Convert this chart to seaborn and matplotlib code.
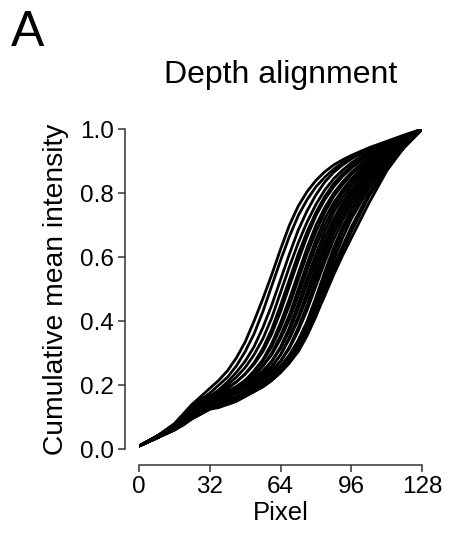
import numpy as np
import pandas as pd
import matplotlib
matplotlib.use("Agg")
import matplotlib.pyplot as plt
import seaborn as sns

# ---- data ----
pixel = [0, 8, 16, 20, 24, 28, 32, 36, 40, 44, 48, 52, 56, 60, 64, 68, 72, 76, 80, 84, 88, 92, 96, 104, 112, 120, 128]

c01 = [.01, .04, .08, .11, .14, .165, .19, .215, .245, .285, .335, .40, .47, .545, .625, .70, .76, .805, .84, .867, .888, .904, .918, .942, .962, .982, 1.0]
c02 = [.01, .04, .075, .10, .13, .155, .175, .20, .225, .26, .305, .36, .43, .51, .59, .665, .73, .78, .82, .85, .875, .895, .91, .938, .96, .98, 1.0]
c03 = [.01, .035, .07, .10, .135, .15, .165, .185, .21, .24, .275, .32, .38, .45, .53, .61, .685, .745, .795, .835, .865, .888, .907, .937, .96, .979, 1.0]
c04 = [.01, .04, .075, .10, .13, .145, .16, .18, .20, .225, .255, .295, .345, .41, .49, .57, .645, .71, .765, .81, .845, .872, .895, .93, .957, .978, 1.0]
c05 = [.01, .035, .07, .095, .12, .14, .155, .17, .19, .21, .235, .27, .315, .375, .45, .53, .61, .68, .74, .79, .83, .86, .885, .925, .955, .976, 1.0]
c06 = [.01, .04, .075, .105, .14, .155, .165, .175, .19, .21, .235, .265, .305, .36, .43, .51, .59, .665, .73, .78, .82, .852, .878, .92, .952, .975, 1.0]
c07 = [.01, .035, .065, .09, .115, .135, .15, .165, .18, .195, .215, .245, .28, .33, .395, .47, .55, .63, .70, .755, .80, .835, .865, .912, .948, .973, 1.0]
c08 = [.01, .04, .07, .10, .13, .145, .155, .165, .18, .195, .215, .24, .275, .32, .38, .45, .53, .61, .68, .74, .79, .826, .858, .908, .946, .972, 1.0]
c09 = [.01, .035, .065, .085, .11, .13, .145, .16, .175, .19, .205, .23, .26, .30, .355, .42, .50, .58, .655, .72, .77, .81, .845, .90, .94, .97, 1.0]
c10 = [.01, .04, .075, .10, .135, .15, .16, .17, .18, .195, .21, .23, .26, .295, .345, .405, .48, .56, .635, .70, .755, .80, .835, .893, .937, .968, 1.0]
c11 = [.01, .035, .065, .09, .12, .135, .145, .155, .165, .18, .195, .215, .24, .275, .32, .38, .455, .535, .61, .68, .74, .785, .825, .886, .932, .966, 1.0]
c12 = [.01, .04, .07, .095, .125, .14, .15, .16, .17, .185, .20, .22, .245, .275, .315, .37, .44, .515, .59, .66, .72, .77, .812, .88, .928, .963, 1.0]
c13 = [.01, .035, .065, .085, .11, .125, .14, .15, .16, .175, .19, .205, .225, .255, .295, .35, .415, .49, .57, .64, .705, .757, .80, .872, .922, .96, 1.0]
c14 = [.01, .04, .07, .095, .13, .145, .155, .165, .175, .185, .20, .215, .235, .26, .295, .345, .405, .475, .55, .625, .69, .745, .79, .865, .918, .958, 1.0]
c15 = [.01, .035, .06, .08, .105, .12, .135, .145, .155, .165, .18, .195, .215, .24, .275, .32, .38, .45, .53, .605, .675, .73, .778, .857, .914, .956, 1.0]
c16 = [.01, .035, .065, .09, .12, .135, .145, .155, .165, .175, .19, .205, .225, .245, .275, .315, .37, .435, .51, .585, .655, .715, .765, .848, .908, .953, 1.0]
c17 = [.01, .035, .06, .08, .10, .115, .13, .14, .15, .16, .175, .19, .205, .225, .255, .29, .34, .40, .475, .555, .63, .695, .75, .838, .902, .95, 1.0]
c18 = [.01, .04, .07, .095, .125, .14, .15, .155, .165, .175, .19, .20, .215, .235, .26, .295, .34, .395, .46, .535, .61, .68, .735, .828, .895, .946, 1.0]
c19 = [.01, .035, .06, .08, .10, .115, .13, .14, .145, .155, .17, .185, .20, .22, .245, .28, .325, .38, .445, .515, .59, .66, .72, .815, .888, .945, 1.0]
c20 = [.01, .035, .065, .085, .11, .125, .135, .14, .15, .16, .175, .19, .205, .225, .25, .28, .32, .37, .43, .50, .57, .635, .695, .80, .88, .943, 1.0]
c21 = [.01, .035, .06, .075, .095, .11, .125, .135, .14, .15, .165, .18, .195, .215, .24, .27, .305, .355, .415, .485, .555, .62, .68, .79, .876, .945, 1.0]
c22 = [.01, .035, .065, .08, .095, .11, .125, .13, .14, .15, .165, .18, .195, .215, .24, .27, .31, .36, .42, .48, .545, .605, .66, .77, .87, .945, 1.0]

curves = {
    "c01": c01, "c02": c02, "c03": c03, "c04": c04, "c05": c05, "c06": c06,
    "c07": c07, "c08": c08, "c09": c09, "c10": c10, "c11": c11, "c12": c12,
    "c13": c13, "c14": c14, "c15": c15, "c16": c16, "c17": c17, "c18": c18,
    "c19": c19, "c20": c20, "c21": c21, "c22": c22,
}

x_ticks = [0, 32, 64, 96, 128]
y_ticks = [0.0, 0.2, 0.4, 0.6, 0.8, 1.0]
y_ticklabels = ["0.0", "0.2", "0.4", "0.6", "0.8", "1.0"]

rows = []
for name, vals in curves.items():
    for px, v in zip(pixel, vals):
        rows.append({"curve": name, "Pixel": px, "value": v})
df = pd.DataFrame(rows)

# ---- plot ----
sns.set_style("ticks")
plt.rcParams["font.family"] = ["Liberation Sans", "DejaVu Sans"]
plt.rcParams["text.color"] = "black"
plt.rcParams["axes.labelcolor"] = "black"
plt.rcParams["xtick.color"] = "black"
plt.rcParams["ytick.color"] = "black"
plt.rcParams["xtick.direction"] = "out"
plt.rcParams["ytick.direction"] = "out"

fig = plt.figure(figsize=(4.54, 5.38), dpi=100)
ax = fig.add_axes([0.306, 0.165, 0.624, 0.595])

sns.lineplot(data=df, x="Pixel", y="value", units="curve", estimator=None,
             color="black", linewidth=2.0, ax=ax, legend=False)

ax.set_xlim(0, 128)
ax.set_ylim(0, 1.0)
ax.set_xticks(x_ticks)
ax.set_yticks(y_ticks)
ax.set_yticklabels(y_ticklabels)
ax.tick_params(axis="both", labelsize=17.5, length=5, width=1.1, color="#333333",
               labelcolor="black", pad=3)
for s in ["left", "bottom"]:
    ax.spines[s].set_linewidth(1.1)
    ax.spines[s].set_color("#333333")

sns.despine(ax=ax, offset={"left": 10, "bottom": 11.5}, trim=True)

ax.set_xlabel("Pixel", fontsize=18.5, labelpad=2, color="black")
ax.set_ylabel("Cumulative mean intensity", fontsize=20.3, labelpad=8, color="black")
ax.set_title("Depth alignment", fontsize=23, pad=33, color="black")

fig.text(0.025, 0.9805, "A", fontsize=36, ha="left", va="top", color="black")

fig.savefig("out.png", dpi=100)
